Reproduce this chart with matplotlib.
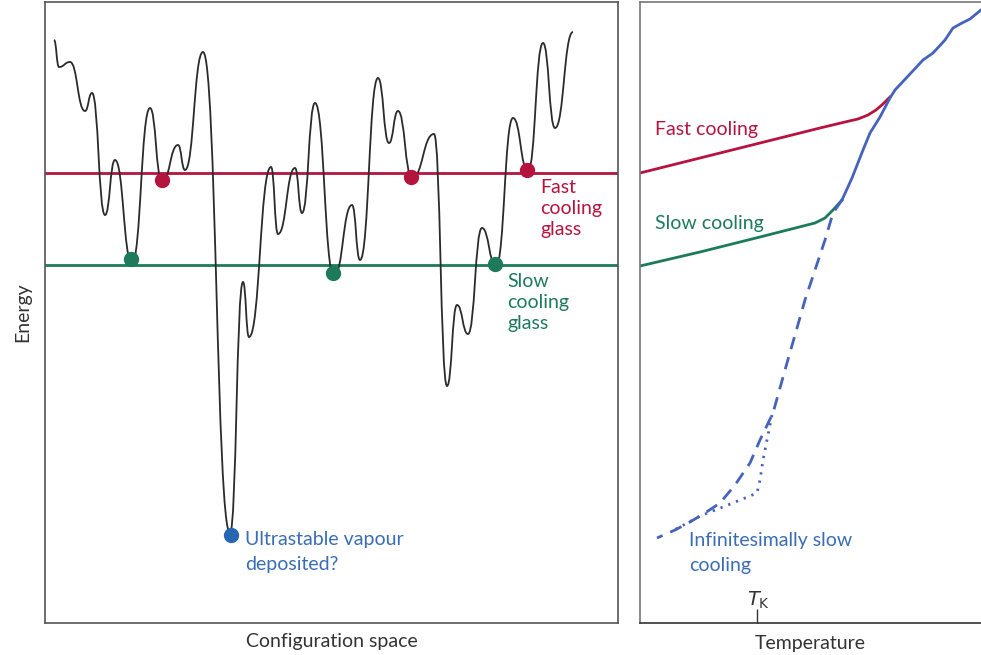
import matplotlib.pyplot as plt
from matplotlib.path import Path
from matplotlib.patches import PathPatch

plt.rcParams["font.family"] = ["Lato", "DejaVu Sans"]

RED = "#b5143f"
GREEN = "#1d7a5a"
BLUE_DOT = "#2766b0"
BLUE_TEXT = "#3a6db4"
BLUE_LINE = "#4563bd"
INK = "#2b2b2b"
FS = 14

# --- energy landscape: successive extrema (configuration, energy) ---
land_x = [9, 14, 25, 40, 47, 60, 70, 87, 105, 117, 133, 140, 158, 185, 198,
          204, 226, 233, 250, 257, 270, 289, 307, 315, 333, 344, 353, 367,
          389, 402, 412, 423, 437, 451, 468, 483, 498, 510, 528]
land_e = [583, 556, 561, 512, 530, 408, 463, 360, 515, 441, 478, 453, 571,
          90, 341, 286, 456, 389, 455, 410, 520, 347, 418, 363, 545, 480, 512,
          445, 489, 237, 318, 289, 395, 357, 505, 452, 580, 495, 591]

fast_glass_e = 450
slow_glass_e = 358
fast_dots_x = [117, 366, 482]
fast_dots_e = [443, 446, 453]
slow_dots_x = [86, 288, 450]
slow_dots_e = [364, 350, 359]
vapour_dot = (186, 88)

# --- energy vs temperature ---
fast_T = [0, 60, 120, 180, 205, 218, 228, 236, 243, 250]
fast_E = [450, 465, 480, 495, 501, 504, 508, 513, 519, 526]
slow_T = [0, 60, 120, 175, 185, 193, 202]
slow_E = [357, 371, 386, 400, 405, 413, 423]
liquid_T = [202, 212, 223, 230, 240, 250, 255, 270, 283, 293, 305, 313, 322,
            330, 341]
liquid_E = [423, 445, 473, 490, 506, 525, 533, 549, 563, 570, 583, 595, 600,
            604, 613]
ideal_T = [202, 193, 185, 175, 165, 157, 145, 133, 120, 110, 95, 80, 65, 50,
           35, 17]
ideal_E = [423, 410, 383, 353, 323, 295, 253, 210, 183, 160, 138, 120, 110,
           101, 93, 85]
kauz_T = [132, 127, 123, 120, 117, 105, 83, 60, 40, 32]
kauz_E = [208, 183, 163, 143, 130, 125, 116, 107, 96, 92]
T_kauzmann = 117

fig = plt.figure(figsize=(9.81, 6.55), dpi=100)
ax = fig.add_axes([45 / 981, 32 / 655, 573 / 981, 621 / 655])
ax2 = fig.add_axes([640 / 981, 32 / 655, 341 / 981, 621 / 655])

# smooth landscape: cubic segments with flat tangents at every extremum
k = 0.5
verts = [(land_x[0], land_e[0])]
codes = [Path.MOVETO]
for (x0, e0), (x1, e1) in zip(zip(land_x[:-1], land_e[:-1]),
                              zip(land_x[1:], land_e[1:])):
    dx = x1 - x0
    verts += [(x0 + k * dx, e0), (x1 - k * dx, e1), (x1, e1)]
    codes += [Path.CURVE4] * 3
ax.add_patch(PathPatch(Path(verts, codes), facecolor="none",
                       edgecolor=INK, lw=1.3, zorder=2))

ax.axhline(fast_glass_e, color=RED, lw=2, zorder=1)
ax.axhline(slow_glass_e, color=GREEN, lw=2, zorder=1)
ax.plot(fast_dots_x, fast_dots_e, "o", color=RED, ms=10, zorder=3)
ax.plot(slow_dots_x, slow_dots_e, "o", color=GREEN, ms=10, zorder=3)
ax.plot(*vapour_dot, "o", color=BLUE_DOT, ms=10, zorder=3)

ax.text(495, 444, "Fast\ncooling\nglass", color=RED, fontsize=FS,
        va="top", linespacing=1.3)
ax.text(462, 350, "Slow\ncooling\nglass", color=GREEN, fontsize=FS,
        va="top", linespacing=1.3)
ax.text(200, 92, "Ultrastable vapour\ndeposited?", color=BLUE_TEXT,
        fontsize=FS, va="top", linespacing=1.55)

ax.set_xlim(0, 573)
ax.set_ylim(0, 621)
ax.set_xticks([])
ax.set_yticks([])
for s in ax.spines.values():
    s.set_color("#555555")
    s.set_linewidth(1.2)
ax.set_xlabel("Configuration space", fontsize=FS, color="#333333", labelpad=7)
ax.set_ylabel("Energy", fontsize=FS, color="#333333", labelpad=10)

ax2.plot(fast_T, fast_E, color=RED, lw=2)
ax2.plot(slow_T, slow_E, color=GREEN, lw=2)
ax2.plot(liquid_T, liquid_E, color=BLUE_LINE, lw=2)
ax2.plot(ideal_T, ideal_E, color=BLUE_LINE, lw=2, ls=(0, (4.5, 3)))
ax2.plot(kauz_T, kauz_E, color=BLUE_LINE, lw=2, ls=(0, (0.8, 2.2)))

ax2.text(15, 488, "Fast cooling", color=RED, fontsize=FS)
ax2.text(15, 394, "Slow cooling", color=GREEN, fontsize=FS)
ax2.text(49, 91, "Infinitesimally slow\ncooling", color=BLUE_TEXT,
         fontsize=FS, va="top", linespacing=1.55)

ax2.set_xlim(0, 341)
ax2.set_ylim(0, 621)
ax2.set_xticks([T_kauzmann])
ax2.set_xticklabels([])
ax2.tick_params(axis="x", direction="in", length=10, width=1,
                color="#333333", pad=0)
ax2.set_yticks([])
ax2.text(T_kauzmann + 2, 12, r"$T_{\mathrm{K}}$", fontsize=14,
         ha="center", va="bottom", color="#333333")
ax2.spines["right"].set_visible(False)
for name in ("left", "top"):
    ax2.spines[name].set_color("#777777")
    ax2.spines[name].set_linewidth(1.2)
ax2.spines["bottom"].set_color("#333333")
ax2.spines["bottom"].set_linewidth(1.2)
ax2.set_xlabel("Temperature", fontsize=FS, color="#333333", labelpad=9)

fig.savefig("out.png", dpi=100)
